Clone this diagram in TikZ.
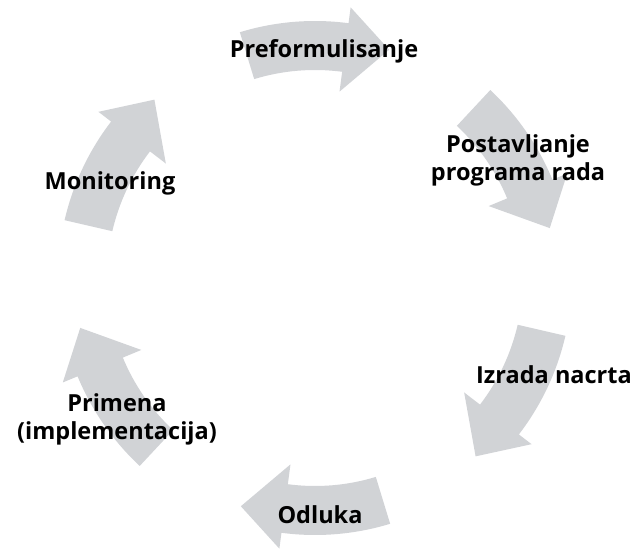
\documentclass[tikz,border=0pt]{standalone}
\usepackage{fontspec}
\setsansfont{Open Sans}
\usepackage{xcolor}
\definecolor{cyclegray}{HTML}{D1D3D6}

\begin{document}
\begin{tikzpicture}[x=1pt,y=1pt]
\tikzset{
cycarrow/.style={fill=cyclegray,draw=none},
steplabel/.style={font=\sffamily\bfseries\fontsize{23.5}{28}\selectfont,
align=center,text=black,inner sep=0pt}
}
\useasboundingbox (-315,-278) rectangle (321,278);
% six curved arrows, clockwise
\foreach \t in {90,30,-30,-90,-150,150}{
\fill[cycarrow] (\t+17:257) arc[start angle=\t+17,end angle=\t-7.5,radius=257]
  -- (\t-7.5:273) -- (\t-18:240) -- (\t-7.5:188) -- (\t-7.5:208)
  arc[start angle=\t-7.5,end angle=\t+17,radius=208] -- cycle;
}
\node[steplabel,anchor=base] (pref) at (9,220) {Preformulisanje};
\node[steplabel] (post) at (203,118) {Postavljanje\\programa rada};
\node[steplabel,anchor=base] (izr) at (239,-105) {Izrada nacrta};
\node[steplabel,anchor=base] (odl) at (5,-245) {Odluka};
\node[steplabel] (prim) at (-198,-141) {Primena\\(implementacija)};
\node[steplabel,anchor=base] (mon) at (-205,88) {Monitoring};
\end{tikzpicture}
\end{document}
